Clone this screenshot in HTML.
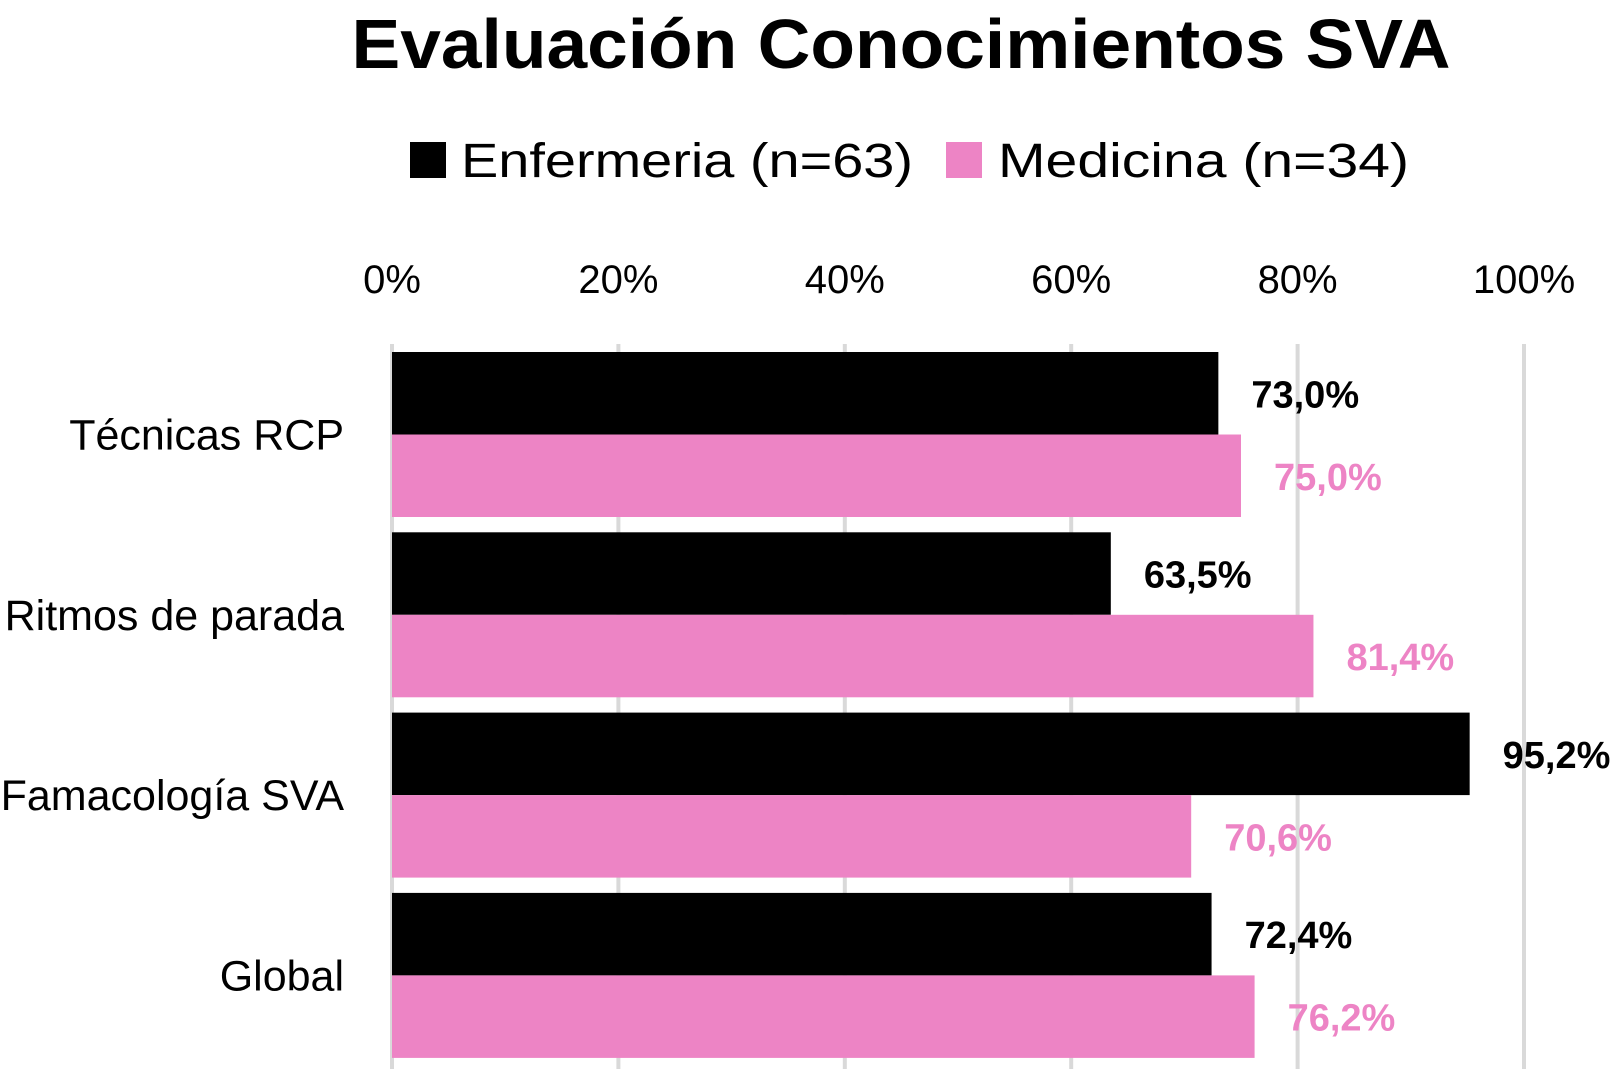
<!DOCTYPE html>
<html><head><meta charset="utf-8"><style>
body{margin:0;background:#fff}
svg{display:block;font-family:"Liberation Sans",sans-serif}
</style></head><body>
<svg id="chart" width="1618" height="1069" viewBox="0 0 1618 1069" xmlns="http://www.w3.org/2000/svg">
<text x="901" y="68" text-anchor="middle" font-size="70" font-weight="bold" textLength="1099" lengthAdjust="spacingAndGlyphs">Evaluación Conocimientos SVA</text>
<g>
<rect x="410" y="142" width="36" height="36" fill="#000"/>
<text x="461" y="177" font-size="48" textLength="452" lengthAdjust="spacingAndGlyphs">Enfermeria (n=63)</text>
<rect x="946" y="142" width="36" height="36" fill="#ED84C5"/>
<text x="998" y="177" font-size="48" textLength="411" lengthAdjust="spacingAndGlyphs">Medicina (n=34)</text>
</g>
<g id="grid"></g><g id="bars"></g><g id="labels"></g>
</svg>
<script>
const categories = ["Técnicas RCP","Ritmos de parada","Famacología SVA","Global"];
const enfermeria = [73.0,63.5,95.2,72.4];
const medicina = [75.0,81.4,70.6,76.2];
const ticks = [0,20,40,60,80,100];
const tickLabels = ["0%","20%","40%","60%","80%","100%"];

const NS="http://www.w3.org/2000/svg";
const x0=392, x1=1524;
const xs=v=>x0+(x1-x0)*v/100;
const top0=352, pitch=180.3, bh=82.5;
function mk(t,a,p){const e=document.createElementNS(NS,t);for(const k in a)e.setAttribute(k,a[k]);p.appendChild(e);return e;}
const grid=document.getElementById('grid'),bars=document.getElementById('bars'),labels=document.getElementById('labels');
ticks.forEach((t,i)=>{
  const l=mk('line',{x1:xs(t),x2:xs(t),y1:344,y2:1069,stroke:'#d9d9d9','stroke-width':4},grid);
  
  
  const tx=mk('text',{x:xs(t),y:293,'text-anchor':'middle','font-size':40},grid);
  
  
  tx.textContent=tickLabels[i];
});
const fmt=v=>v.toFixed(1).replace('.',',')+'%';
categories.forEach((c,i)=>{
  const y=top0+i*pitch;
  const cl=mk('text',{x:344,y:y+bh+15,'text-anchor':'end','font-size':43},labels);
  
  
  cl.textContent=c;
  [[enfermeria,'#000','#000',0],[medicina,'#ED84C5','#ED84C5',bh]].forEach(([arr,fill,tc,off],s)=>{
    const v=arr[i];
    const r=mk('rect',{x:x0,y:y+off,width:xs(v)-x0,height:bh,fill:fill},bars);
    
    
    const t=mk('text',{x:xs(v)+33,y:y+off+bh/2+14,'font-size':38,'font-weight':'bold',fill:tc},labels);
    
    
    t.textContent=fmt(v);
  });
});
</script>
</body></html>
